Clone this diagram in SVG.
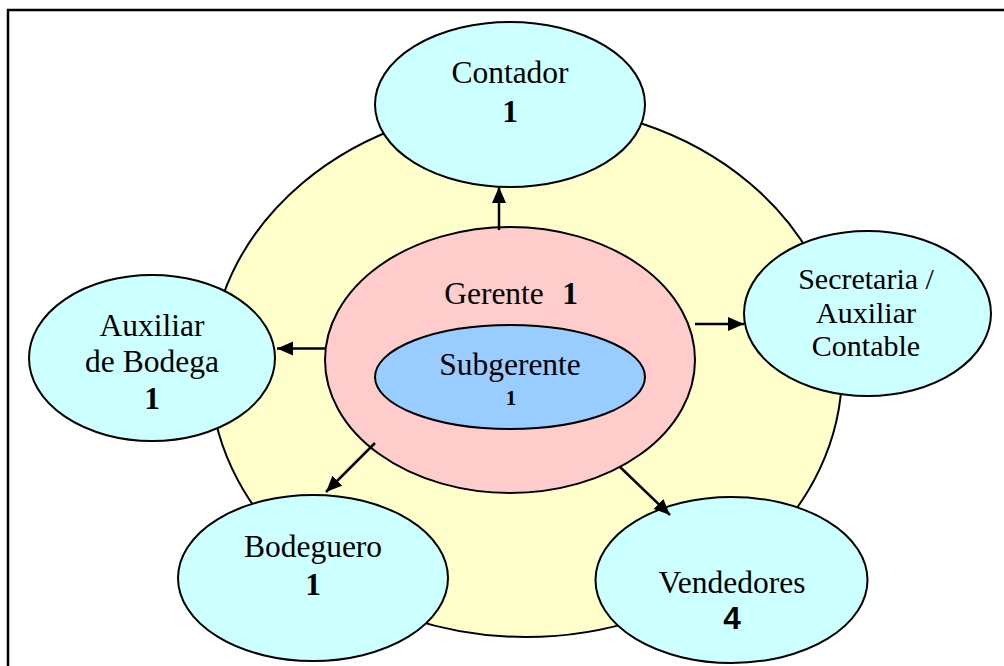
<svg xmlns="http://www.w3.org/2000/svg" width="1004" height="666" viewBox="0 0 1004 666">
<style>
.t{font-family:"Liberation Serif","Times New Roman",serif;font-size:31.5px;fill:#000;text-anchor:middle}
.b{font-weight:bold}
.s{font-size:30px}
.n{stroke:#000;stroke-width:2}
.c{fill:#CCFFFF}
.a{stroke:#000;stroke-width:2.5;fill:none;marker-end:url(#ah)}
</style>
<defs>
<marker id="ah" markerUnits="userSpaceOnUse" markerWidth="17" markerHeight="15" refX="16" refY="7" orient="auto">
<path d="M0,0 L16,7 L0,14 z" fill="#000"/>
</marker>
</defs>
<rect x="0" y="0" width="1004" height="666" fill="#fff"/>
<rect x="8" y="10" width="1000" height="662" fill="none" stroke="#000" stroke-width="2.5"/>
<g id="outer"><ellipse cx="526" cy="371" rx="316" ry="266" fill="#FFFFCC" class="n"/></g>
<g id="contador"><ellipse cx="510" cy="104.5" rx="135" ry="82.5" class="n c"/>
<text class="t" x="510" y="83">Contador</text><text class="t b" x="510" y="122">1</text></g>
<g id="auxiliar"><ellipse cx="152" cy="358" rx="123" ry="83" class="n c"/>
<text class="t" x="152" y="336">Auxiliar</text><text class="t" x="152" y="372">de Bodega</text><text class="t b" x="152" y="409">1</text></g>
<g id="secretaria"><ellipse cx="867.5" cy="313.5" rx="123.5" ry="82.5" class="n c"/>
<text class="t s" x="866" y="289">Secretaria /</text><text class="t s" x="866" y="323">Auxiliar</text><text class="t s" x="866" y="356">Contable</text></g>
<g id="bodeguero"><ellipse cx="313" cy="578" rx="135" ry="83" class="n c"/>
<text class="t" x="313" y="557">Bodeguero</text><text class="t b" x="313" y="595">1</text></g>
<g id="vendedores"><ellipse cx="731.5" cy="580" rx="136" ry="83" class="n c"/>
<text class="t" x="732" y="593">Vendedores</text><text class="t b" x="732" y="629" style="font-family:'Liberation Sans',Arial,sans-serif">4</text></g>
<g id="gerente"><ellipse cx="510" cy="360" rx="185" ry="133" fill="#FFCCCC" class="n"/>
<text class="t" x="494" y="303.5">Gerente</text><text class="t b" x="570" y="303.5">1</text></g>
<g id="subgerente"><ellipse cx="510" cy="377" rx="135" ry="52" fill="#99CCFF" class="n"/>
<text class="t" x="510" y="375">Subgerente</text><text class="t b" x="511" y="405" style="font-size:21px">1</text></g>
<g id="connectors">
<line class="a" x1="499" y1="230" x2="499" y2="187"/>
<line class="a" x1="695" y1="324" x2="744" y2="324"/>
<line class="a" x1="325" y1="348.5" x2="277" y2="348.5"/>
<line class="a" x1="375" y1="443" x2="326" y2="492"/>
<line class="a" x1="620" y1="467" x2="670" y2="515"/>
</g>
</svg>
